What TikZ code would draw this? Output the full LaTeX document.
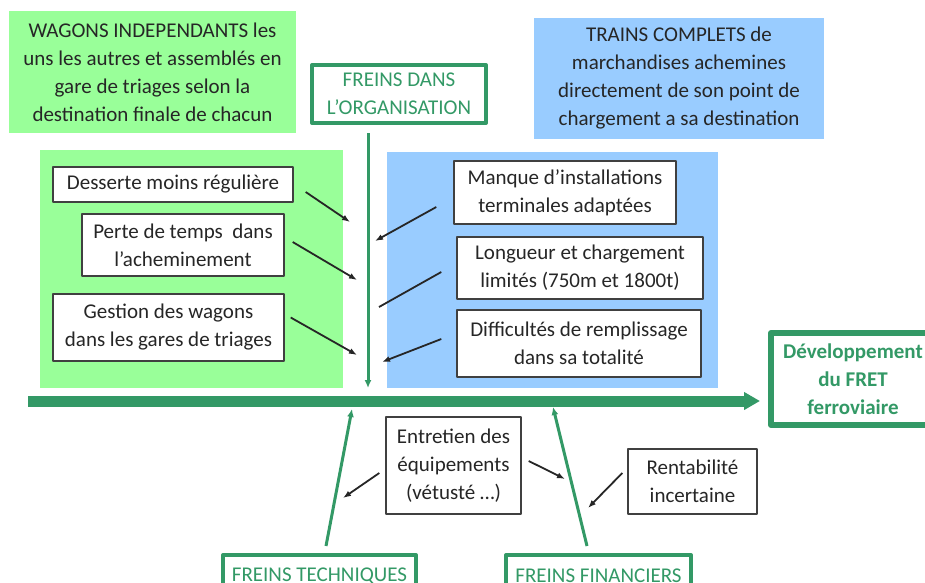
\documentclass[tikz,border=0pt]{standalone}
\usepackage{fontspec}
\setmainfont{Carlito}
\usetikzlibrary{arrows.meta}
\newcommand{\Pix}{1pt}
\newcommand{\Frame}{4pt}
\newcommand{\Hair}{1.4pt}
\definecolor{sea}{HTML}{339966}
\definecolor{mint}{HTML}{99FF99}
\definecolor{sky}{HTML}{99CCFF}
\definecolor{ink}{HTML}{262626}
\definecolor{slate}{HTML}{404040}

\begin{document}
\begin{tikzpicture}[x=\Pix,y=-\Pix, line join=round,
  txt/.style={font=\fontsize{21}{28}\selectfont, text=ink, align=center, inner sep=0pt},
  cause/.style={txt, draw=slate, fill=white, line width=\Hair},
  brake/.style={txt, text=sea, draw=sea, line width=\Frame, fill=white},
  pointer/.style={ink, line width=1.8pt, -{Latex[length=8pt,width=6pt]}},
  branch/.style={sea, line width=3pt, -{Latex[length=8pt,width=7pt]}}]

  \clip (0,0) rectangle (925,582);

  % ---- the two kinds of train -------------------------------------------
  \node[txt, fill=mint, minimum width=287pt, minimum height=122pt] (wagons) at (152.5,72)
    {WAGONS INDEPENDANTS les\\uns les autres et assemblés en\\gare de triages selon la\\destination finale de chacun};
  \node[txt, fill=sky, minimum width=290pt, minimum height=121pt] (trains) at (679,78.5)
    {TRAINS COMPLETS de\\marchandises achemines\\directement de son point de\\chargement a sa destination};
  \fill[mint] (40,150) rectangle (343,388);
  \fill[sky] (387,152) rectangle (718,388);

  % ---- spine ------------------------------------------------------------
  \node[brake, line width=6pt, font=\fontsize{21}{28}\selectfont\bfseries,
        minimum width=164pt, minimum height=92pt] (fret) at (853,379)
    {Développement\\du FRET\\ferroviaire};
  \coordinate (tail) at (28,401);
  \coordinate (head) at (760,401);
  \draw[sea, line width=11pt, -{Triangle[length=16pt,width=17pt]}] (tail) -- (head);

  % ---- organisation -----------------------------------------------------
  \node[brake, minimum width=174pt, minimum height=58pt] (organisation) at (399,94)
    {FREINS DANS\\L’ORGANISATION};
  \coordinate (orgfoot) at (368,388);
  \draw[branch] (organisation.south -| orgfoot) ++(0,8) -- (orgfoot);

  \node[cause, minimum width=240pt, minimum height=35pt] (desserte) at (173,184.5)
    {Desserte moins régulière};
  \node[cause, minimum width=202pt, minimum height=62pt] (perte) at (183,245)
    {Perte de temps\ \ dans\\l’acheminement};
  \node[cause, minimum width=231pt, minimum height=67pt] (gestion) at (168.5,327.5)
    {Gestion des wagons\\dans les gares de triages};
  \node[cause, minimum width=222pt, minimum height=63pt] (manque) at (565,192.5)
    {Manque d’installations\\terminales adaptées};
  \node[cause, minimum width=246pt, minimum height=62pt] (longueur) at (580,268)
    {Longueur et chargement\\limités (750m et 1800t)};
  \node[cause, minimum width=244pt, minimum height=67pt] (difficultes) at (579,343.5)
    {Difficultés de remplissage\\dans sa totalité};

  \draw[pointer] ([shift={(12,7.5)}]desserte.east) -- (350,222);
  \draw[pointer] ([shift={(8,-3)}]perte.east) -- (357,280);
  \draw[pointer] ([shift={(6,-10)}]gestion.east) -- (357,355);
  \draw[pointer] ([shift={(-17,14.5)}]manque.west) -- (375,241);
  \draw[ink, line width=1.8pt] ([shift={(-15,4)}]longueur.west) -- (379,307);
  \draw[pointer] ([shift={(-15,-4.5)}]difficultes.west) -- (382,362);

  % ---- technique and money ----------------------------------------------
  \node[brake, minimum width=193pt, minimum height=42pt] (techniques) at (319.5,576)
    {FREINS TECHNIQUES};
  \node[brake, minimum width=185pt, minimum height=42pt] (financiers) at (598.5,576)
    {FREINS FINANCIERS};
  \draw[branch] ([shift={(6.5,-7)}]techniques.north) -- (352,409);
  \draw[branch] ([shift={(-11.5,-7)}]financiers.north) -- (553,407);

  \node[cause, minimum width=135pt, minimum height=97pt] (entretien) at (453.5,465.5)
    {Entretien des\\équipements\\(vétusté …)};
  \node[cause, minimum width=129pt, minimum height=65pt] (rentabilite) at (692.5,481.5)
    {Rentabilité\\incertaine};

  \draw[pointer] ([shift={(-6,7.5)}]entretien.west) -- (343,498);
  \draw[pointer] ([shift={(7,-4.5)}]entretien.east) -- (565,479);
  \draw[pointer] ([shift={(-5,-8.5)}]rentabilite.west) -- (588,508);

\end{tikzpicture}
\end{document}
